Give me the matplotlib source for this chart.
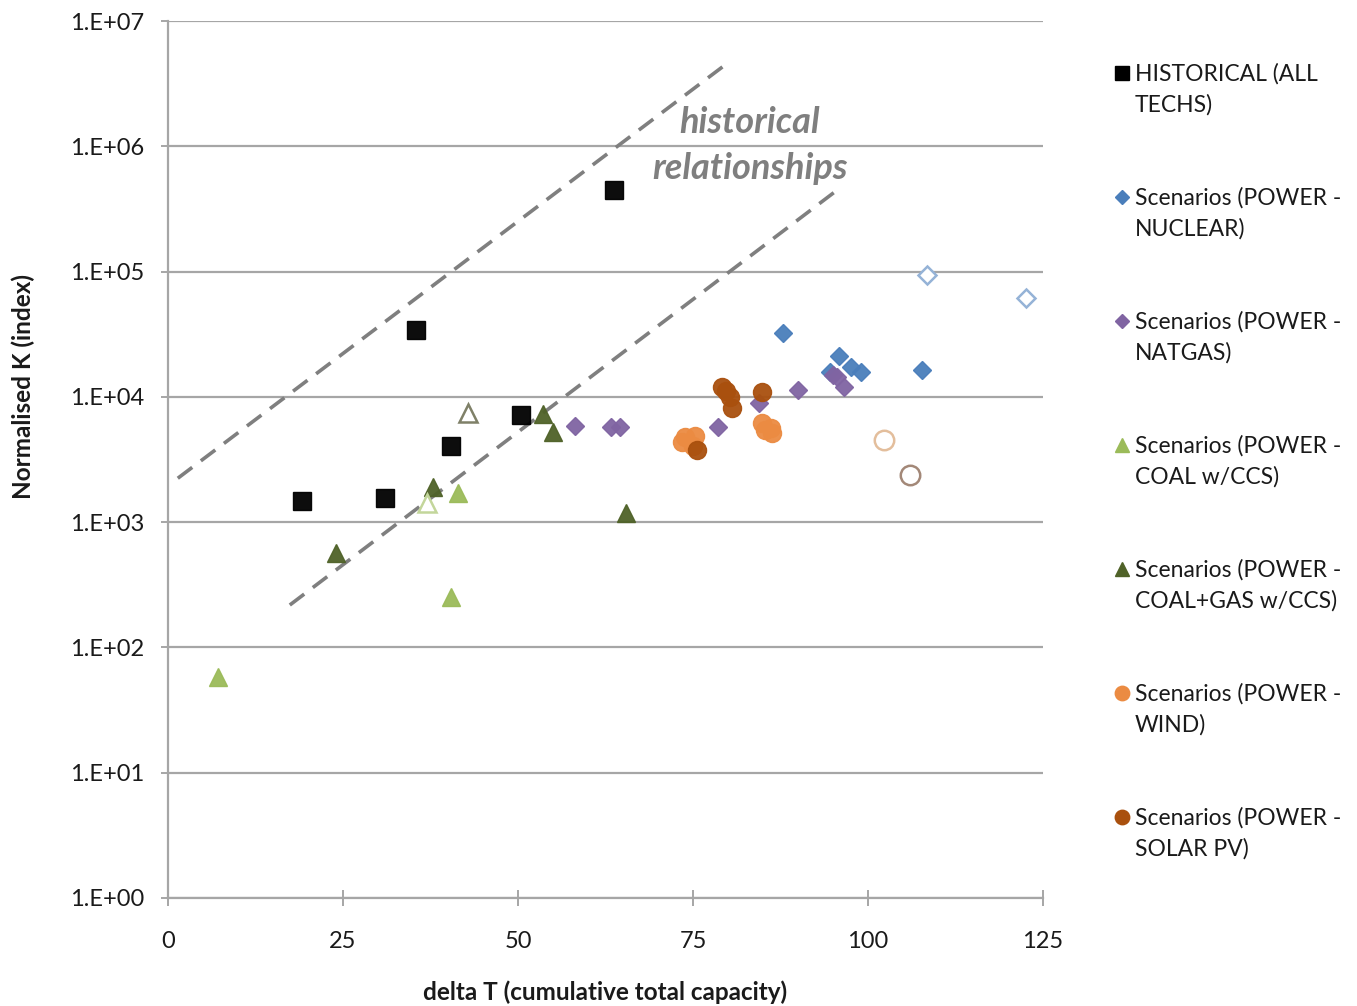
import matplotlib
matplotlib.use("Agg")
import matplotlib.pyplot as plt
from matplotlib.lines import Line2D

plt.rcParams['font.family'] = ['Lato', 'DejaVu Sans']

# ------------------------------------------------------------
# DATA
# ------------------------------------------------------------
hist_x = [19.1, 31.0, 35.4, 40.4, 50.4, 63.7]
hist_y = [1480, 1550, 34000, 4050, 7100, 447000]

nuclear_x = [87.8, 95.9, 97.5, 99.0, 94.6, 107.7]
nuclear_y = [32500, 21200, 17400, 15800, 15800, 16500]
nuclear_open_x = [108.4, 122.6]
nuclear_open_y = [93700, 61500]

natgas_x = [58.1, 63.3, 64.6, 78.5, 84.4, 90.0, 95.0, 95.5, 96.5]
natgas_y = [5850, 5760, 5760, 5730, 8900, 11300, 15000, 14500, 12000]

coal_x = [7.1, 40.4, 41.4]
coal_y = [58, 252, 1700]
coal_open_x = [37.0]
coal_open_y = [1420]

coalgas_x = [24.0, 37.9, 53.6, 55.0, 65.4]
coalgas_y = [565, 1900, 7350, 5250, 1180]
coalgas_open_x = [42.9]
coalgas_open_y = [7400]

wind_x = [73.4, 73.9, 75.3, 75.0, 84.8, 85.3, 86.2, 86.3]
wind_y = [4380, 4800, 4900, 4050, 6150, 5430, 5600, 5130]
wind_open_x = [102.3]
wind_open_y = [4550]

solar_x = [79.1, 79.7, 80.3, 80.5, 84.8, 75.5]
solar_y = [12000, 11200, 10000, 8100, 11000, 3760]
solar_open_x = [106.0]
solar_open_y = [2400]

# dashed "historical relationships" guide lines (start/end points)
upper_x = [1.4, 79.9]
upper_y = [2240, 4.6e6]
lower_x = [17.4, 96.0]
lower_y = [218, 4.65e5]

y_ticks = [1e0, 1e1, 1e2, 1e3, 1e4, 1e5, 1e6, 1e7]
y_tick_labels = ['1.E+00', '1.E+01', '1.E+02', '1.E+03', '1.E+04', '1.E+05', '1.E+06', '1.E+07']
x_ticks = [0, 25, 50, 75, 100, 125]

# ------------------------------------------------------------
# FIGURE
# ------------------------------------------------------------
W, H = 1357, 1006
fig = plt.figure(figsize=(W / 100, H / 100), dpi=100)
ax = fig.add_axes([168 / W, 1 - 898 / H, (1043 - 168) / W, (898 - 21) / H])

grid_c = '#A6A6A6'
txt_c = '#1a1a1a'
ax.set_yscale('log')
ax.set_xlim(0, 125)
ax.set_ylim(1, 1e7)
for yv in y_ticks:
    ax.axhline(yv, color=grid_c, lw=1.6, zorder=0)

for s in ['top', 'right']:
    ax.spines[s].set_visible(False)
for s in ['left', 'bottom']:
    ax.spines[s].set_color(grid_c)
    ax.spines[s].set_linewidth(1.6)

ax.set_yticks(y_ticks)
ax.set_yticklabels(y_tick_labels)
ax.yaxis.set_minor_locator(matplotlib.ticker.NullLocator())
ax.set_xticks(x_ticks)
ax.tick_params(axis='y', length=5, width=1.4, color=grid_c, labelsize=17,
               labelcolor=txt_c, pad=12)
ax.tick_params(axis='x', direction='inout', length=11, width=1.4, color=grid_c,
               labelsize=17, labelcolor=txt_c, pad=18)

ax.set_xlabel('delta T (cumulative total capacity)', fontsize=17.5, fontweight='bold',
              color=txt_c, va='center', ha='center')
ax.set_ylabel('Normalised K (index)', fontsize=17.5, fontweight='bold', color=txt_c,
              va='center', ha='center')
ax.xaxis.set_label_coords(0.5, -0.107)
ax.yaxis.set_label_coords(-0.165, 0.583)

# dashed guide lines
dash_c = '#7F7F7F'
ax.plot(upper_x, upper_y, color=dash_c, lw=2.6, dashes=(5, 3), zorder=2)
ax.plot(lower_x, lower_y, color=dash_c, lw=2.6, dashes=(5, 3), zorder=2)
ax.text(83.1, 1.56e6, 'historical', fontsize=26, fontweight='bold', style='italic',
        color=dash_c, ha='center', va='center')
ax.text(83.1, 6.7e5, 'relationships', fontsize=26, fontweight='bold', style='italic',
        color=dash_c, ha='center', va='center')

# ------------------------------------------------------------
# SCATTER SERIES
# ------------------------------------------------------------
series = [
    (hist_x, hist_y, 's', 13, '#000000', 'HISTORICAL (ALL\nTECHS)'),
    (nuclear_x, nuclear_y, 'D', 9.5, '#4A7EBB', 'Scenarios (POWER -\nNUCLEAR)'),
    (natgas_x, natgas_y, 'D', 9.5, '#8064A2', 'Scenarios (POWER -\nNATGAS)'),
    (coal_x, coal_y, '^', 13, '#9BBB59', 'Scenarios (POWER -\nCOAL w/CCS)'),
    (coalgas_x, coalgas_y, '^', 13, '#4F6228', 'Scenarios (POWER -\nCOAL+GAS w/CCS)'),
    (wind_x, wind_y, 'o', 13, '#EB8B42', 'Scenarios (POWER -\nWIND)'),
    (solar_x, solar_y, 'o', 13, '#A9500E', 'Scenarios (POWER -\nSOLAR PV)'),
]
for xs, ys, m, ms, c, _ in series:
    ax.plot(xs, ys, ls='none', marker=m, ms=ms, color=c, mec=c, alpha=0.95, zorder=3)

hollow = [
    (nuclear_open_x, nuclear_open_y, 'D', 9.5, '#95B3D7'),
    (coal_open_x, coal_open_y, '^', 13, '#C3D69B'),
    (coalgas_open_x, coalgas_open_y, '^', 13, '#7F8068'),
    (wind_open_x, wind_open_y, 'o', 14, '#E3BE9C'),
    (solar_open_x, solar_open_y, 'o', 14, '#A38878'),
]
for xs, ys, m, ms, c in hollow:
    ax.plot(xs, ys, ls='none', marker=m, ms=ms, mfc='white', mec=c, mew=1.8, zorder=3)

# ------------------------------------------------------------
# LEGEND (drawn by hand so the marker sits on the first text line)
# ------------------------------------------------------------
for i, (_, _, m, ms, c, label) in enumerate(series):
    yp = 73 + 124 * i
    fig.add_artist(Line2D([1122 / W], [1 - yp / H], marker=m, ms=ms * 0.8, color=c,
                          ls='none', transform=fig.transFigure))
    fig.text(1135 / W, 1 - (yp - 10) / H, label, fontsize=16.5, color=txt_c,
             ha='left', va='top', linespacing=1.57)

fig.savefig('out.png', dpi=100)
